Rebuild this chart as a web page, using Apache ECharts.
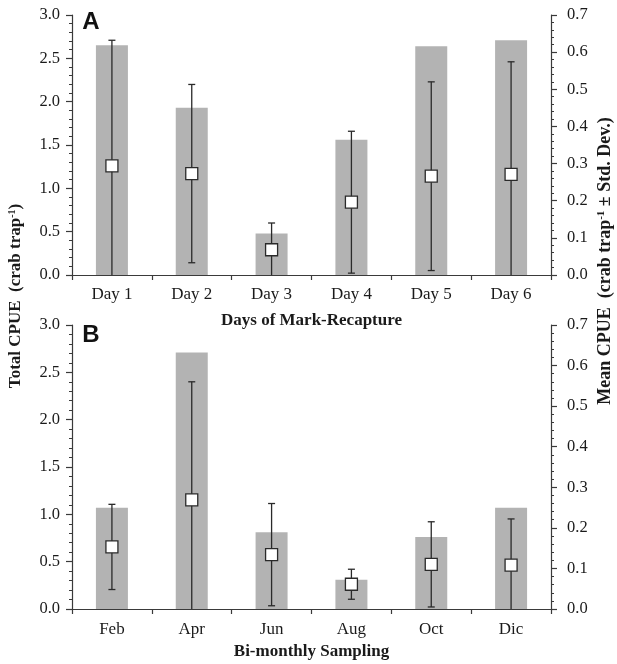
<!DOCTYPE html>
<html>
<head>
<meta charset="utf-8">
<script src="https://cdn.jsdelivr.net/npm/echarts@6/dist/echarts.min.js"></script>
<style>
html,body{margin:0;padding:0;background:#fff;}
#chart{width:617px;height:664px;}
</style>
</head>
<body>
<div id="chart"></div>
<script>
// ---- Data ----
const daysCategories = ['Day 1', 'Day 2', 'Day 3', 'Day 4', 'Day 5', 'Day 6'];
const daysTotalCPUE = [2.65, 1.93, 0.48, 1.56, 2.64, 2.71];
const daysMeanCPUE = [0.294, 0.273, 0.068, 0.196, 0.266, 0.271];
const daysStdDev = [0.338, 0.240, 0.072, 0.191, 0.254, 0.303];

const monthCategories = ['Feb', 'Apr', 'Jun', 'Aug', 'Oct', 'Dic'];
const monthTotalCPUE = [1.07, 2.71, 0.81, 0.31, 0.76, 1.07];
const monthMeanCPUE = [0.153, 0.269, 0.134, 0.061, 0.110, 0.108];
const monthStdDev = [0.105, 0.291, 0.126, 0.037, 0.105, 0.114];

const leftTicks = [0, 0.5, 1.0, 1.5, 2.0, 2.5, 3.0];
const rightTicks = [0, 0.1, 0.2, 0.3, 0.4, 0.5, 0.6, 0.7];

// ---- Styles ----
const SERIF = '"Liberation Serif", "Times New Roman", serif';
const SANS = '"Liberation Sans", Arial, sans-serif';
const AXIS_COLOR = '#3a3a3a';
const TEXT_COLOR = '#1a1a1a';
const BAR_COLOR = '#b3b3b3';

function xAxisFor(grid, cats, name, margin, gap) {
  return {
    gridIndex: grid, type: 'category', data: cats,
    axisLine: {show: true, lineStyle: {color: AXIS_COLOR, width: 1.2}},
    axisTick: {show: true, length: 5, lineStyle: {color: AXIS_COLOR, width: 1.2}},
    axisLabel: {color: TEXT_COLOR, fontFamily: SERIF, fontSize: 17, margin: margin},
    name: name, nameLocation: 'middle', nameGap: gap,
    nameTextStyle: {color: TEXT_COLOR, fontFamily: SERIF, fontSize: 17, fontWeight: 'bold'}
  };
}
function yAxisFor(grid, ticks, right) {
  const step = ticks[1] - ticks[0];
  return {
    gridIndex: grid, type: 'value', position: right ? 'right' : 'left',
    min: ticks[0], max: ticks[ticks.length - 1], interval: step,
    axisLine: {show: true, lineStyle: {color: AXIS_COLOR, width: 1.2}},
    axisTick: {show: true, length: 6, lineStyle: {color: AXIS_COLOR, width: 1.2}},
    minorTick: {show: true, splitNumber: 5, length: 3, lineStyle: {color: AXIS_COLOR, width: 1}},
    splitLine: {show: false},
    axisLabel: {color: TEXT_COLOR, fontFamily: SERIF, fontSize: 16.5, margin: right ? 16 : 12,
      formatter: v => v.toFixed(1)}
  };
}

function errorRender(params, api) {
  const x = api.value(0), m = api.value(1), s = api.value(2);
  const hi = m + s, rawLo = m - s, lo = Math.max(0, rawLo);
  const pHi = api.coord([x, hi]);
  const pLo = api.coord([x, lo]);
  const half = 3.5;
  const style = {stroke: '#2a2a2a', lineWidth: 1.3};
  const children = [
    {type: 'line', shape: {x1: pHi[0], y1: pHi[1], x2: pLo[0], y2: pLo[1]}, style},
    {type: 'line', shape: {x1: pHi[0] - half, y1: pHi[1], x2: pHi[0] + half, y2: pHi[1]}, style}
  ];
  if (rawLo >= 0) {
    children.push({type: 'line', shape: {x1: pLo[0] - half, y1: pLo[1], x2: pLo[0] + half, y2: pLo[1]}, style});
  }
  return {type: 'group', children};
}

function panelSeries(grid, totals, means, sds) {
  const yl = grid * 2, yr = grid * 2 + 1;
  return [
    {type: 'bar', xAxisIndex: grid, yAxisIndex: yl, data: totals, barWidth: 32,
      itemStyle: {color: BAR_COLOR}, silent: true, z: 1},
    {type: 'custom', xAxisIndex: grid, yAxisIndex: yr,
      data: means.map((m, i) => [i, m, sds[i]]),
      encode: {x: 0, y: 1}, renderItem: errorRender, z: 3, silent: true},
    {type: 'scatter', xAxisIndex: grid, yAxisIndex: yr, data: means,
      symbol: 'rect', symbolSize: 12,
      itemStyle: {color: '#ffffff', borderColor: '#2a2a2a', borderWidth: 1.3, opacity: 1}, z: 5, silent: true}
  ];
}

const chart = echarts.init(document.getElementById('chart'), null, {renderer: 'canvas'});
chart.setOption({
  backgroundColor: '#ffffff',
  animation: false,
  grid: [
    {left: 72, right: 66, top: 15, height: 260},
    {left: 72, right: 66, top: 325, height: 284}
  ],
  xAxis: [
    xAxisFor(0, daysCategories, 'Days of Mark-Recapture', 11, 37),
    xAxisFor(1, monthCategories, 'Bi-monthly Sampling', 12, 34)
  ],
  yAxis: [
    yAxisFor(0, leftTicks, false), yAxisFor(0, rightTicks, true),
    yAxisFor(1, leftTicks, false), yAxisFor(1, rightTicks, true)
  ],
  series: [
    ...panelSeries(0, daysTotalCPUE, daysMeanCPUE, daysStdDev),
    ...panelSeries(1, monthTotalCPUE, monthMeanCPUE, monthStdDev)
  ],
  graphic: [
    {type: 'text', x: 91, y: 22, style: {text: 'A', font: 'bold 24px ' + SANS, fill: '#111', align: 'center', verticalAlign: 'middle'}},
    {type: 'text', x: 91, y: 335, style: {text: 'B', font: 'bold 24px ' + SANS, fill: '#111', align: 'center', verticalAlign: 'middle'}},
    {type: 'text', x: 16, y: 296, rotation: Math.PI / 2,
      style: {text: '{t|Total CPUE  (crab trap}{s|-1}{t|)}', align: 'center', verticalAlign: 'middle',
        rich: {t: {font: 'bold 17px ' + SERIF, fill: TEXT_COLOR, color: TEXT_COLOR},
               s: {font: 'bold 10px ' + SERIF, fill: TEXT_COLOR, color: TEXT_COLOR, verticalAlign: 'top', padding: [0, 0, 7, 0]}}}},
    {type: 'text', x: 605, y: 261, rotation: Math.PI / 2,
      style: {text: '{t|Mean CPUE  (crab trap}{s|-1}{t| ± Std. Dev.)}', align: 'center', verticalAlign: 'middle',
        rich: {t: {font: 'bold 18px ' + SERIF, fill: TEXT_COLOR, color: TEXT_COLOR},
               s: {font: 'bold 11px ' + SERIF, fill: TEXT_COLOR, color: TEXT_COLOR, verticalAlign: 'top', padding: [0, 0, 7, 0]}}}}
  ]
});
</script>
</body>
</html>
